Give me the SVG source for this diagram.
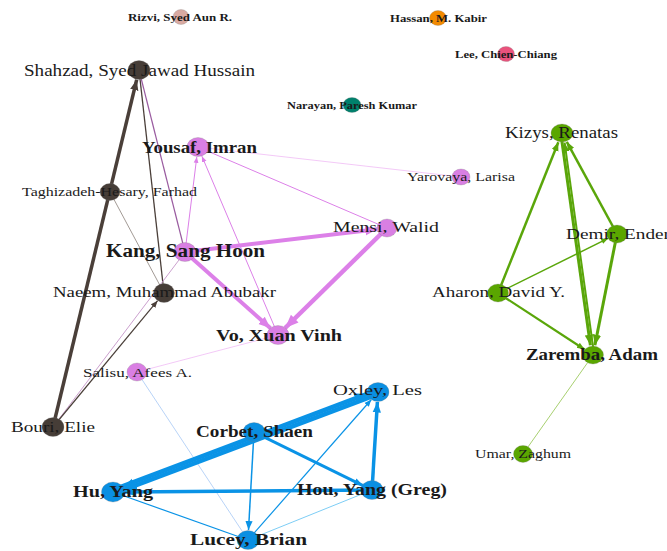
<svg xmlns="http://www.w3.org/2000/svg" width="667" height="551" viewBox="0 0 667 551">
<style>
text{font-family:"Liberation Serif","Times New Roman",serif;fill:#1a1a1a}
.b{font-weight:bold}
.e{fill:none;stroke-linecap:butt}
.br{stroke:#4a3f39}
.pk{stroke:#dc80e8}
.pl{stroke:#eeb2f3}
.gr{stroke:#5aa60a}
.bl{stroke:#0a93e6}
.n{stroke:#7a7a7a;stroke-opacity:0.45;stroke-width:0.6}
</style>
<defs>
<marker id="ab" viewBox="0 0 10 10" refX="10" refY="5" markerWidth="3" markerHeight="3" orient="auto" markerUnits="strokeWidth"><path d="M0,1 L10,5 L0,9 z" fill="#4a3f39"/></marker>
<marker id="abs" viewBox="0 0 10 10" refX="10" refY="5" markerWidth="6" markerHeight="6" orient="auto" markerUnits="strokeWidth"><path d="M0,1 L10,5 L0,9 z" fill="#4a3f39"/></marker>
<marker id="ap" viewBox="0 0 10 10" refX="10" refY="5" markerWidth="3" markerHeight="3" orient="auto" markerUnits="strokeWidth"><path d="M0,1 L10,5 L0,9 z" fill="#dc80e8"/></marker>
<marker id="aps" viewBox="0 0 10 10" refX="10" refY="5" markerWidth="6" markerHeight="6" orient="auto" markerUnits="strokeWidth"><path d="M0,1 L10,5 L0,9 z" fill="#dc80e8"/></marker>
<marker id="ag" viewBox="0 0 10 10" refX="10" refY="5" markerWidth="3.5" markerHeight="3.5" orient="auto" markerUnits="strokeWidth"><path d="M0,1 L10,5 L0,9 z" fill="#5aa60a"/></marker>
<marker id="agb" viewBox="0 0 10 10" refX="10" refY="5" markerWidth="4.5" markerHeight="4.5" orient="auto" markerUnits="strokeWidth"><path d="M0,1 L10,5 L0,9 z" fill="#5aa60a"/></marker>
<marker id="au" viewBox="0 0 10 10" refX="10" refY="5" markerWidth="3" markerHeight="3" orient="auto" markerUnits="strokeWidth"><path d="M0,1 L10,5 L0,9 z" fill="#0a93e6"/></marker>
<marker id="aul" viewBox="0 0 10 10" refX="10" refY="5" markerWidth="4" markerHeight="4" orient="auto" markerUnits="strokeWidth"><path d="M0,1 L10,5 L0,9 z" fill="#0a93e6"/></marker>
<marker id="aus" viewBox="0 0 10 10" refX="10" refY="5" markerWidth="6" markerHeight="6" orient="auto" markerUnits="strokeWidth"><path d="M0,1 L10,5 L0,9 z" fill="#0a93e6"/></marker>
</defs>
<rect width="667" height="551" fill="#ffffff"/>
<g id="edges">
<!-- brown cluster -->
<line class="e" x1="110" y1="192" x2="164" y2="293" stroke="#8a807a" stroke-width="0.8"/>
<line class="e br" x1="164" y1="293" x2="139" y2="70" stroke-width="1.3"/>
<line class="e" x1="185" y1="252" x2="139" y2="70" stroke="#9a5ca0" stroke-width="1.2"/>
<line class="e" x1="185" y1="252" x2="53" y2="427" stroke="#c595c8" stroke-width="0.9"/>
<line class="e br" x1="53" y1="427" x2="157.6" y2="300.7" stroke-width="1.2" marker-end="url(#abs)"/>
<line class="e br" x1="53" y1="427" x2="136.7" y2="79.7" stroke-width="3.5" marker-end="url(#ab)"/>
<!-- pink cluster -->
<line class="e pl" x1="198" y1="147" x2="461" y2="177" stroke-width="0.7"/>
<line class="e pl" x1="278" y1="335" x2="137" y2="372" stroke-width="0.7"/>
<line class="e pk" x1="198" y1="147" x2="387" y2="228" stroke-width="1"/>
<line class="e pk" x1="185" y1="252" x2="196.8" y2="156.9" stroke-width="1" marker-end="url(#aps)"/>
<line class="e pk" x1="278" y1="335" x2="201.9" y2="156.2" stroke-width="1" marker-end="url(#aps)"/>
<line class="e pk" x1="185" y1="252" x2="377.1" y2="229.2" stroke-width="4" marker-end="url(#ap)"/>
<line class="e pk" x1="185" y1="252" x2="270.5" y2="328.3" stroke-width="4" marker-end="url(#ap)"/>
<line class="e pk" x1="387" y1="228" x2="285.1" y2="328" stroke-width="4.5" marker-end="url(#ap)"/>
<!-- blue cluster -->
<line class="e" x1="137" y1="372" x2="248" y2="540" stroke="#a6c8f5" stroke-width="0.8"/>
<line class="e" x1="372" y1="490" x2="248" y2="540" stroke="#5cc0f2" stroke-width="0.8"/>
<line class="e bl" x1="113" y1="492" x2="248" y2="540" stroke-width="1.2"/>
<line class="e bl" x1="248" y1="540" x2="371.4" y2="399.5" stroke-width="1.2" marker-end="url(#aus)"/>
<line class="e bl" x1="254" y1="432" x2="248.5" y2="530" stroke-width="1.5" marker-end="url(#aus)"/>
<line class="e bl" x1="254" y1="432" x2="363" y2="485.6" stroke-width="3" marker-end="url(#au)"/>
<line class="e bl" x1="372" y1="490" x2="377.4" y2="402" stroke-width="3.5" marker-end="url(#au)"/>
<line class="e bl" x1="372" y1="490" x2="124" y2="491.9" stroke-width="3.5" marker-end="url(#au)"/>
<line class="e bl" x1="249" y1="439" x2="124" y2="486" stroke-width="2.5" marker-end="url(#aul)"/>
<line class="e bl" x1="112.3" y1="490.1" x2="367.9" y2="393.7" stroke-width="4.5" marker-end="url(#au)"/>
<line class="e bl" x1="378.7" y1="393.9" x2="123.6" y2="490" stroke-width="4.5" marker-end="url(#au)"/>
<!-- green cluster -->
<line class="e" x1="593" y1="355" x2="523" y2="454" stroke="#a8d070" stroke-width="1"/>
<line class="e gr" x1="498" y1="293" x2="558.3" y2="142.3" stroke-width="2.5" marker-end="url(#ag)"/>
<line class="e gr" x1="560.8" y1="133.2" x2="590.4" y2="345.3" stroke-width="3" marker-end="url(#ag)"/>
<line class="e gr" x1="594.2" y1="354.8" x2="564.6" y2="142.7" stroke-width="2" marker-end="url(#agb)"/>
<line class="e gr" x1="617" y1="234" x2="566.8" y2="141.8" stroke-width="2.5" marker-end="url(#ag)"/>
<line class="e gr" x1="617" y1="234" x2="594.9" y2="345.2" stroke-width="3" marker-end="url(#ag)"/>
<line class="e gr" x1="498" y1="293" x2="608" y2="238.4" stroke-width="1.5" marker-end="url(#agb)"/>
<line class="e gr" x1="498" y1="293" x2="584.6" y2="349.5" stroke-width="2.2" marker-end="url(#ag)"/>
</g>
<g id="rizvi"><ellipse class="n" cx="181" cy="17" rx="8" ry="7.5" fill="#d9aaa2"/><text class="b" x="128" y="21" font-size="11" textLength="104" lengthAdjust="spacingAndGlyphs">Rizvi, Syed Aun R.</text></g>
<g id="hassan"><ellipse class="n" cx="438" cy="18" rx="8.5" ry="7.5" fill="#f38a00"/><text class="b" x="390" y="22" font-size="11" textLength="97" lengthAdjust="spacingAndGlyphs">Hassan, M. Kabir</text></g>
<g id="lee"><ellipse class="n" cx="506" cy="54" rx="8.5" ry="7.5" fill="#ea527c"/><text class="b" x="455" y="58" font-size="11" textLength="102" lengthAdjust="spacingAndGlyphs">Lee, Chien-Chiang</text></g>
<g id="narayan"><ellipse class="n" cx="352" cy="105" rx="9" ry="7.5" fill="#00806c"/><text class="b" x="287" y="109" font-size="11" textLength="130" lengthAdjust="spacingAndGlyphs">Narayan, Paresh Kumar</text></g>
<g id="shahzad"><ellipse class="n" cx="139" cy="70" rx="11" ry="9.5" fill="#463d37"/><text x="24" y="76" font-size="17" textLength="231" lengthAdjust="spacingAndGlyphs">Shahzad, Syed Jawad Hussain</text></g>
<g id="yousaf"><ellipse class="n" cx="198" cy="147" rx="11" ry="9.5" fill="#d97fe3"/><text class="b" x="142" y="153" font-size="17" textLength="115" lengthAdjust="spacingAndGlyphs">Yousaf, Imran</text></g>
<g id="taghizadeh"><ellipse class="n" cx="110" cy="192" rx="10" ry="8.5" fill="#463d37"/><text x="22" y="196" font-size="12.5" textLength="175" lengthAdjust="spacingAndGlyphs">Taghizadeh-Hesary, Farhad</text></g>
<g id="yarovaya"><ellipse class="n" cx="461" cy="177" rx="9" ry="8" fill="#d97fe3"/><text x="407" y="181" font-size="13" textLength="108" lengthAdjust="spacingAndGlyphs">Yarovaya, Larisa</text></g>
<g id="kizys"><ellipse class="n" cx="562" cy="133" rx="11" ry="9" fill="#5aa600"/><text x="505" y="138" font-size="16" textLength="113" lengthAdjust="spacingAndGlyphs">Kizys, Renatas</text></g>
<g id="mensi"><ellipse class="n" cx="387" cy="228" rx="10" ry="9" fill="#d97fe3"/><text x="333" y="232" font-size="15" textLength="106" lengthAdjust="spacingAndGlyphs">Mensi, Walid</text></g>
<g id="kang"><ellipse class="n" cx="185" cy="252" rx="11" ry="9.5" fill="#d97fe3"/><text class="b" x="106" y="257" font-size="18" textLength="159" lengthAdjust="spacingAndGlyphs">Kang, Sang Hoon</text></g>
<g id="demir"><ellipse class="n" cx="617" cy="234" rx="10.5" ry="9" fill="#5aa600"/><text x="566" y="239" font-size="15.5" textLength="104" lengthAdjust="spacingAndGlyphs">Demir, Ender</text></g>
<g id="naeem"><ellipse class="n" cx="164" cy="293" rx="10.5" ry="9.5" fill="#463d37"/><text x="53" y="297" font-size="15" textLength="223" lengthAdjust="spacingAndGlyphs">Naeem, Muhammad Abubakr</text></g>
<g id="aharon"><ellipse class="n" cx="498" cy="293" rx="10.5" ry="9" fill="#5aa600"/><text x="432" y="297" font-size="15" textLength="133" lengthAdjust="spacingAndGlyphs">Aharon, David Y.</text></g>
<g id="vo"><ellipse class="n" cx="278" cy="335" rx="11" ry="9.5" fill="#d97fe3"/><text class="b" x="216" y="341" font-size="17" textLength="126" lengthAdjust="spacingAndGlyphs">Vo, Xuan Vinh</text></g>
<g id="zaremba"><ellipse class="n" cx="593" cy="355" rx="10.5" ry="9" fill="#5aa600"/><text class="b" x="526" y="360" font-size="16" textLength="132" lengthAdjust="spacingAndGlyphs">Zaremba, Adam</text></g>
<g id="salisu"><ellipse class="n" cx="137" cy="372" rx="10" ry="9" fill="#d97fe3"/><text x="83" y="377" font-size="12.5" textLength="109" lengthAdjust="spacingAndGlyphs">Salisu, Afees A.</text></g>
<g id="oxley"><ellipse class="n" cx="378" cy="392" rx="11" ry="9.5" fill="#0a8fe2"/><text x="333" y="395" font-size="15" textLength="89" lengthAdjust="spacingAndGlyphs">Oxley, Les</text></g>
<g id="bouri"><ellipse class="n" cx="53" cy="427" rx="11" ry="9.5" fill="#463d37"/><text x="11" y="432" font-size="15" textLength="84" lengthAdjust="spacingAndGlyphs">Bouri, Elie</text></g>
<g id="corbet"><ellipse class="n" cx="254" cy="432" rx="11" ry="9.5" fill="#0a8fe2"/><text class="b" x="196" y="437" font-size="16" textLength="117" lengthAdjust="spacingAndGlyphs">Corbet, Shaen</text></g>
<g id="umar"><ellipse class="n" cx="523" cy="454" rx="9.5" ry="8.5" fill="#5aa600"/><text x="475" y="458" font-size="13" textLength="96" lengthAdjust="spacingAndGlyphs">Umar, Zaghum</text></g>
<g id="huyang"><ellipse class="n" cx="113" cy="492" rx="11.5" ry="10" fill="#0a8fe2"/><text class="b" x="73" y="497" font-size="16" textLength="80" lengthAdjust="spacingAndGlyphs">Hu, Yang</text></g>
<g id="houyang"><ellipse class="n" cx="372" cy="490" rx="11" ry="9.5" fill="#0a8fe2"/><text class="b" x="297" y="495" font-size="16" textLength="150" lengthAdjust="spacingAndGlyphs">Hou, Yang (Greg)</text></g>
<g id="lucey"><ellipse class="n" cx="248" cy="540" rx="11" ry="9.5" fill="#0a8fe2"/><text class="b" x="190" y="545" font-size="17" textLength="117" lengthAdjust="spacingAndGlyphs">Lucey, Brian</text></g>
</svg>
